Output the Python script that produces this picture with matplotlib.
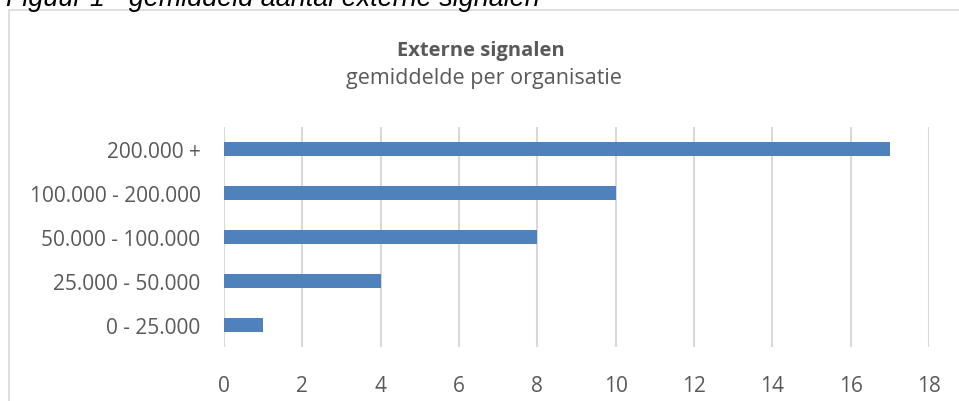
import matplotlib.pyplot as plt
from matplotlib.patches import Rectangle

categories = ['200.000 +', '100.000 - 200.000', '50.000 - 100.000', '25.000 - 50.000', '0 - 25.000']
values = [17, 10, 8, 4, 1]
xticks = [0, 2, 4, 6, 8, 10, 12, 14, 16, 18]

plt.rcParams['font.family'] = ['Open Sans', 'DejaVu Sans']

fig = plt.figure(figsize=(9.59, 4.02), dpi=100)
W, H = 959, 402

# chart border (Excel style), partly cut off
fig.patches.append(Rectangle((8.5 / W, -0.1), 1.2, 1 - 10.5 / H + 0.1,
                             transform=fig.transFigure, fill=False,
                             edgecolor='#D9D9D9', linewidth=1.2))

# caption above the chart, cut off at top
fig.text(6 / W, 1 - 6.5 / H, 'Figuur 1 - gemiddeld aantal externe signalen',
         family='Liberation Sans', style='italic', fontsize=19.4,
         color='black', va='baseline', ha='left')

ax = fig.add_axes([224 / W, 1 - 348 / H, 705 / W, 220 / H])
ypos = range(len(categories))
ax.barh(ypos, values, height=0.34, color='#4F81BD', zorder=3)

ax.set_xlim(0, 18)
ax.set_ylim(len(categories) - 0.5, -0.5)
ax.set_xticks(xticks)
ax.set_yticks(list(ypos))
ax.set_yticklabels(categories)
ax.grid(axis='x', color='#D9D9D9', linewidth=1.5, zorder=0)
for s in ax.spines.values():
    s.set_visible(False)
ax.axvline(0, color='#D9D9D9', linewidth=1.5, zorder=1)
ax.tick_params(length=0, labelsize=15, colors='#595959')
ax.tick_params(axis='x', pad=20)
ax.tick_params(axis='y', pad=17)

fig.text(481 / W, 1 - 51 / H, 'Externe signalen', ha='center', va='center',
         fontsize=14.5, fontweight='bold', color='#595959')
fig.text(484 / W, 1 - 79 / H, 'gemiddelde per organisatie', ha='center',
         va='center', fontsize=15.5, color='#595959')

fig.savefig('out.png', dpi=100)
